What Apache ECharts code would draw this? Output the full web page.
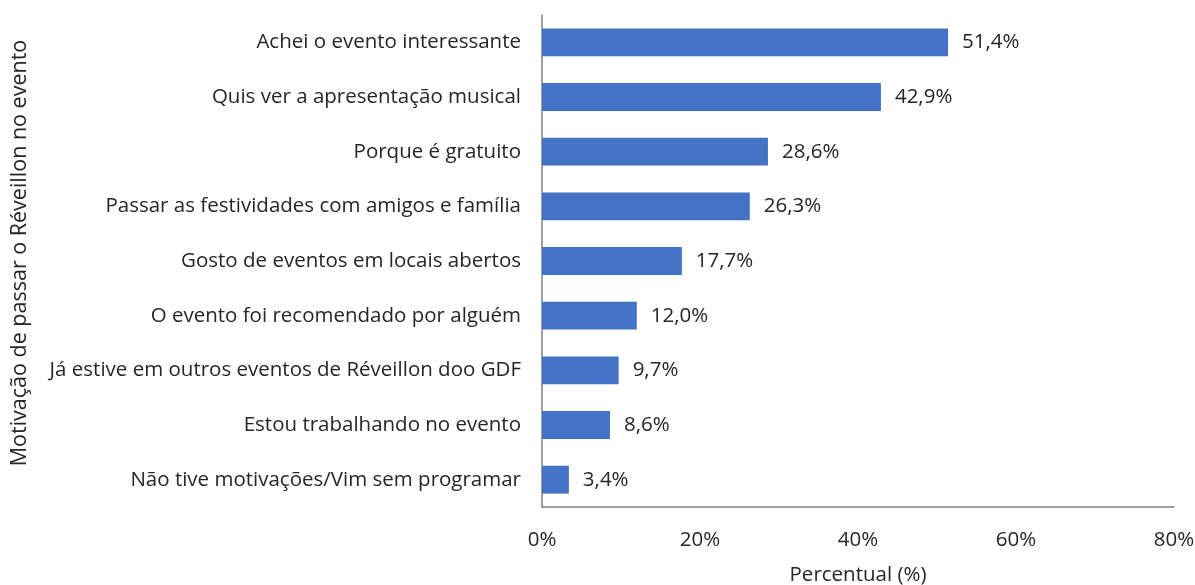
<!DOCTYPE html>
<html>
<head>
<meta charset="utf-8">
<script src="https://cdn.jsdelivr.net/npm/echarts@6/dist/echarts.min.js"></script>
<style>
  html, body { margin: 0; padding: 0; background: #fff; }
  #chart { width: 1195px; height: 585px; }
</style>
</head>
<body>
<div id="chart"></div>
<script>
// Motivações para passar o Réveillon no evento (top to bottom)
const categories = [
  'Achei o evento interessante',
  'Quis ver a apresentação musical',
  'Porque é gratuito',
  'Passar as festividades com amigos e família',
  'Gosto de eventos em locais abertos',
  'O evento foi recomendado por alguém',
  'Já estive em outros eventos de Réveillon doo GDF',
  'Estou trabalhando no evento',
  'Não tive motivações/Vim sem programar'
];
const values = [51.4, 42.9, 28.6, 26.3, 17.7, 12.0, 9.7, 8.6, 3.4];
const xTicks = [0, 20, 40, 60, 80];
const yTitle = 'Motivação de passar o Réveillon no evento';

const FONT = 'Open Sans';
const TEXT = '#262626';
const SIZE = 20.5;

const chart = echarts.init(document.getElementById('chart'));
chart.setOption({
  animation: false,
  textStyle: { fontFamily: FONT },
  grid: {
    left: 542, right: 21, top: 15, bottom: 78,
    containLabel: false,
    outerBoundsMode: 'none'
  },
  graphic: [{
    type: 'text',
    x: 20,
    y: 253,
    rotation: Math.PI / 2,
    style: {
      text: yTitle,
      fill: TEXT,
      font: '21.5px "Open Sans"',
      align: 'center',
      verticalAlign: 'middle'
    }
  }],
  xAxis: {
    type: 'value',
    min: xTicks[0],
    max: xTicks[xTicks.length - 1],
    interval: 20,
    name: 'Percentual (%)',
    nameLocation: 'middle',
    nameGap: 58,
    nameTextStyle: { color: TEXT, fontSize: SIZE, fontFamily: FONT },
    axisLine: { show: true, lineStyle: { color: '#7f7f7f', width: 1.5 } },
    axisTick: { show: false },
    splitLine: { show: false },
    axisLabel: {
      color: TEXT, fontSize: SIZE, fontFamily: FONT, margin: 23,
      formatter: v => v + '%'
    }
  },
  yAxis: {
    type: 'category',
    inverse: true,
    data: categories,
    axisLine: { show: true, lineStyle: { color: '#7f7f7f', width: 1.5 } },
    axisTick: { show: false },
    axisLabel: { color: TEXT, fontSize: SIZE, fontFamily: FONT, margin: 21 }
  },
  series: [{
    type: 'bar',
    data: values,
    barWidth: '51%',
    itemStyle: { color: '#4472c4' },
    label: {
      show: true,
      position: 'right',
      distance: 14,
      color: TEXT,
      fontSize: SIZE,
      fontFamily: FONT,
      formatter: p => p.value.toFixed(1).replace('.', ',') + '%'
    }
  }]
});
</script>
</body>
</html>
